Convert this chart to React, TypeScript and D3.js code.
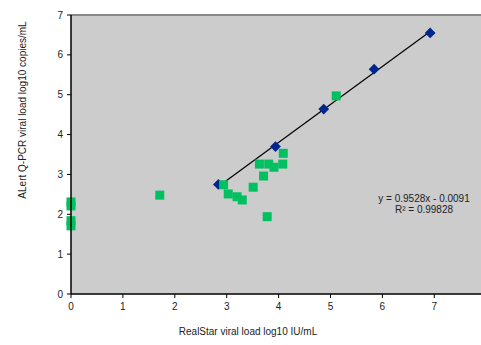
import React from 'react'
import * as d3 from 'd3'

// blue series (fit)
const fitX = [2.84, 3.94, 4.87, 5.84, 6.92]
const fitY = [2.75, 3.70, 4.64, 5.64, 6.55]

// green series
const samplesX = [0, 0, 0, 0, 1.71, 2.94, 3.03, 3.20, 3.30, 3.51, 3.63, 3.71, 3.78, 3.81, 3.91, 4.08, 4.09, 5.11]
const samplesY = [2.31, 2.21, 1.84, 1.71, 2.48, 2.74, 2.51, 2.44, 2.36, 2.68, 3.26, 2.96, 1.94, 3.26, 3.18, 3.26, 3.53, 4.97]

const xTicks = [0, 1, 2, 3, 4, 5, 6, 7]
const yTicks = [0, 1, 2, 3, 4, 5, 6, 7]

const slope = 0.9528
const intercept = -0.0091
const eqLabel = 'y = 0.9528x - 0.0091'
const r2Label = 'R² = 0.99828'

const xTitle = 'RealStar viral load log10 IU/mL'
const yTitle = 'ALert Q-PCR viral load log10 copies/mL'

export default function App() {
  const left = 71
  const right = 481
  const top = 15
  const bottom = 294

  const x = d3.scaleLinear().domain([0, 7]).range([left, 434.3])
  const y = d3.scaleLinear().domain([0, 7]).range([bottom, top])

  const font = 'Liberation Sans, Arial, sans-serif'
  // square diamond, not d3's tall one
  const diamond = d3.symbol().type(d3.symbolSquare).size(58)()

  const x0 = d3.min(fitX) as number
  const x1 = d3.max(fitX) as number

  return (
    <svg width={481} height={345} style={{ position: 'absolute', left: 0, top: 0 }} fontFamily={font}>
      <rect x={0} y={0} width={481} height={345} fill="#fff" />
      <rect x={left} y={top} width={right - left} height={bottom - top} fill="#cccccc" />
      <line x1={left} x2={right} y1={top} y2={top} stroke="#888" strokeWidth={2} />

      <line x1={x(x0)} y1={y(slope * x0 + intercept)} x2={x(x1)} y2={y(slope * x1 + intercept)} stroke="#000" strokeWidth={1.2} />

      {fitX.map((d, i) => (
        <path key={'b' + i} d={diamond as string} transform={`translate(${x(d)},${y(fitY[i])}) rotate(45)`} fill="#00268f" />
      ))}
      {samplesX.map((d, i) => (
        <rect key={'g' + i} x={x(d) - 4.5} y={y(samplesY[i]) - 4.5} width={9} height={9} fill="#00c060" />
      ))}

      <line x1={left} x2={left} y1={top} y2={bottom} stroke="#000" strokeWidth={1.5} />
      <line x1={left} x2={right} y1={bottom} y2={bottom} stroke="#000" strokeWidth={1.5} />

      {yTicks.map(t => (
        <g key={'y' + t}>
          <line x1={left - 4} x2={left} y1={y(t)} y2={y(t)} stroke="#000" />
          <text x={left - 8} y={y(t) + 3.5} fontSize={10} textAnchor="end" fill="#222">{t}</text>
        </g>
      ))}
      {xTicks.map(t => (
        <g key={'x' + t}>
          <line x1={x(t)} x2={x(t)} y1={bottom} y2={bottom + 4} stroke="#000" />
          <text x={x(t)} y={bottom + 16} fontSize={10} textAnchor="middle" fill="#222">{t}</text>
        </g>
      ))}

      <text x={424} y={202} fontSize={10} textAnchor="middle" fill="#222">{eqLabel}</text>
      <text x={424} y={213} fontSize={10} textAnchor="middle" fill="#222">{r2Label}</text>

      <text x={248} y={335} fontSize={10} textAnchor="middle" fill="#222">{xTitle}</text>
      <text transform="translate(26,110) rotate(-90)" fontSize={10} textAnchor="middle" fill="#222">{yTitle}</text>
    </svg>
  )
}
